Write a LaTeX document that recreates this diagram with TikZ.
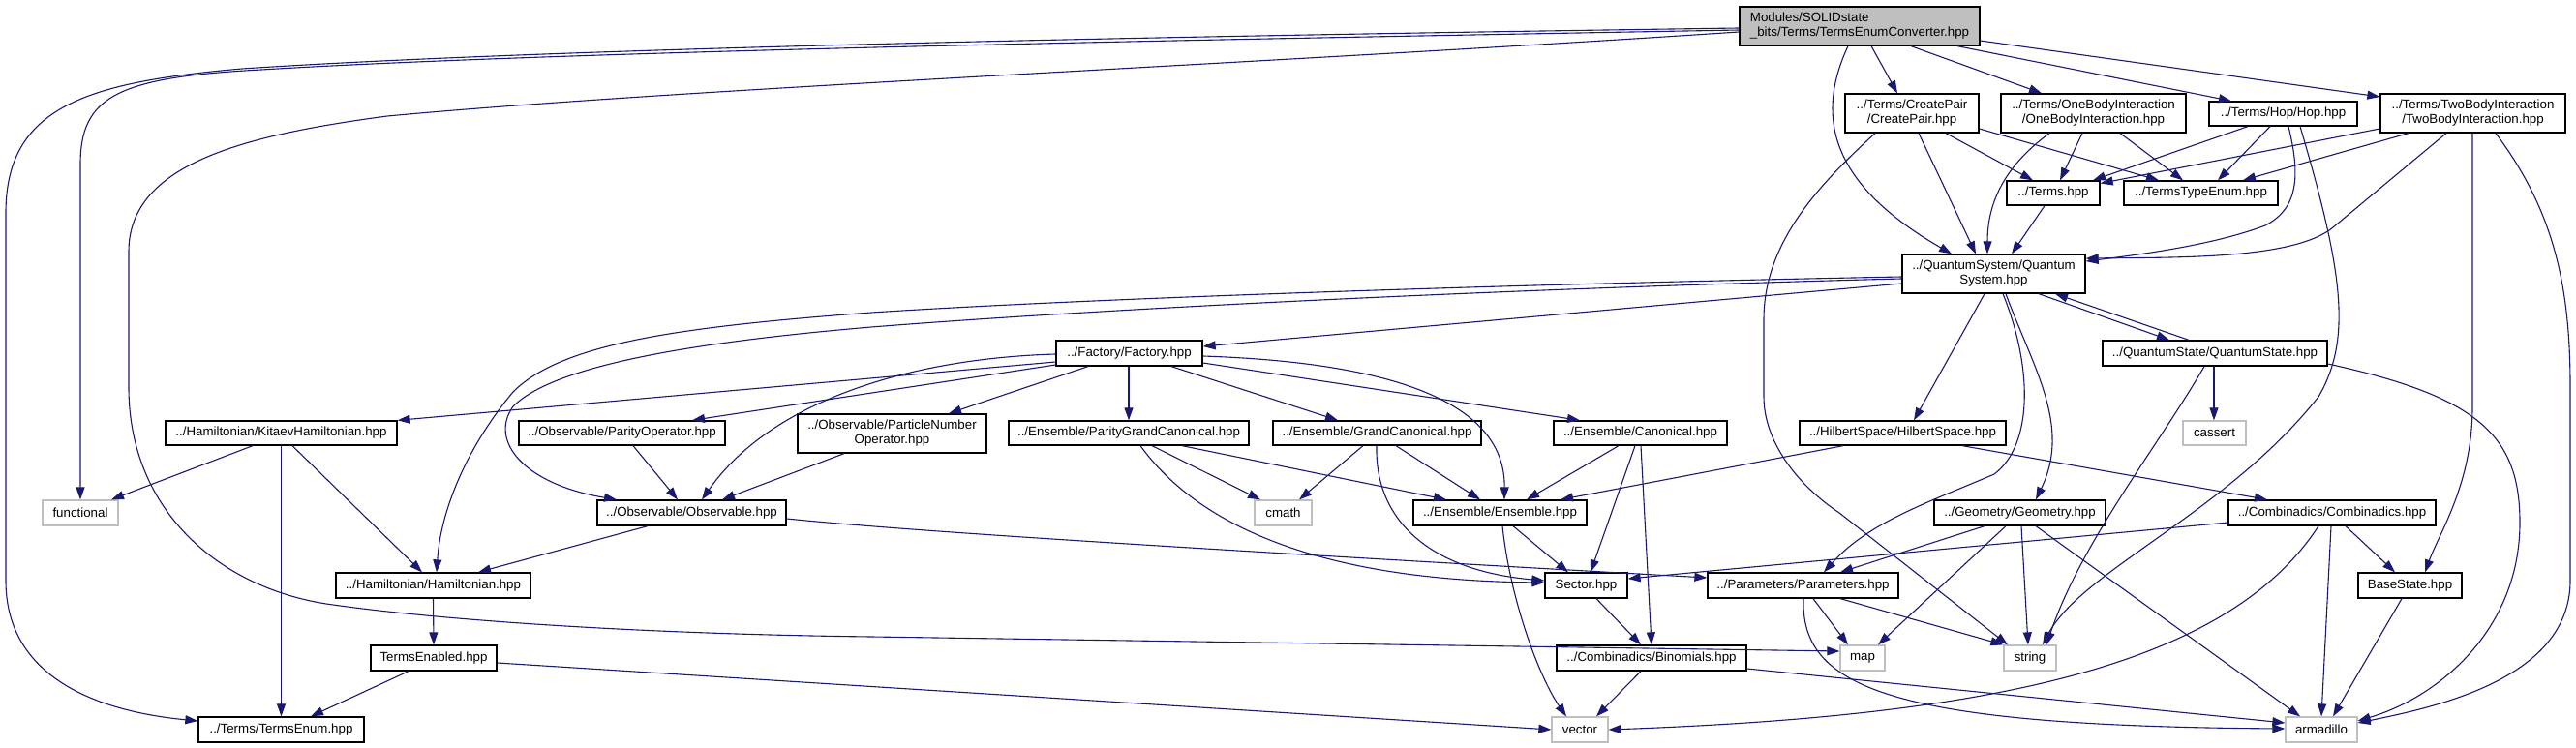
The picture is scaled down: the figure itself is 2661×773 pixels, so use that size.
\documentclass[tikz,border=0pt]{standalone}
\usepackage{fontspec}
\setmainfont{Liberation Sans}
\usetikzlibrary{arrows.meta}
\definecolor{eblue}{HTML}{191970}
\definecolor{lgray}{HTML}{BFBFBF}
\begin{document}
\begin{tikzpicture}[x=1pt,y=-1pt,
  box/.style={draw=black, line width=1.3pt, fill=white, rectangle, inner sep=0pt, align=center, font=\fontsize{13.3}{15}\selectfont},
  sys/.style={box, draw=lgray},
  e/.style={draw=eblue, line width=1.1pt, -{Triangle[length=13pt,width=9pt]}}]
\useasboundingbox (0,0) rectangle (2661,773);
% nodes
\node[box, fill=lgray, align=left, minimum width=248pt, minimum height=40pt] (root) at (1921,27) {Modules/SOLIDstate\\\_bits/Terms/TermsEnumConverter.hpp};
\node[box, minimum width=138pt, minimum height=40pt] (cp) at (1975,117) {../Terms/CreatePair\\/CreatePair.hpp};
\node[box, minimum width=191pt, minimum height=40pt] (ob) at (2162.5,117) {../Terms/OneBodyInteraction\\/OneBodyInteraction.hpp};
\node[box, minimum width=153pt, minimum height=25pt] (hop) at (2358.5,117.5) {../Terms/Hop/Hop.hpp};
\node[box, minimum width=191pt, minimum height=40pt] (tb) at (2554.5,117) {../Terms/TwoBodyInteraction\\/TwoBodyInteraction.hpp};
\node[box, minimum width=96pt, minimum height=25pt] (terms) at (2121,199.5) {../Terms.hpp};
\node[box, minimum width=159pt, minimum height=25pt] (tte) at (2273.5,199.5) {../TermsTypeEnum.hpp};
\node[box, minimum width=189pt, minimum height=40pt] (qsys) at (2059.5,283) {../QuantumSystem/Quantum\\System.hpp};
\node[box, minimum width=232pt, minimum height=26pt] (qstate) at (2288,365) {../QuantumState/QuantumState.hpp};
\node[box, minimum width=151pt, minimum height=26pt] (factory) at (1166.5,365) {../Factory/Factory.hpp};
\node[box, minimum width=239pt, minimum height=25pt] (kitaev) at (290.5,447.5) {../Hamiltonian/KitaevHamiltonian.hpp};
\node[box, minimum width=213pt, minimum height=25pt] (parop) at (642.5,447.5) {../Observable/ParityOperator.hpp};
\node[box, minimum width=195pt, minimum height=40pt] (pnop) at (921.5,448) {../Observable/ParticleNumber\\Operator.hpp};
\node[box, minimum width=248pt, minimum height=25pt] (pgc) at (1166,447.5) {../Ensemble/ParityGrandCanonical.hpp};
\node[box, minimum width=215pt, minimum height=25pt] (gc) at (1422.5,447.5) {../Ensemble/GrandCanonical.hpp};
\node[box, minimum width=179pt, minimum height=25pt] (can) at (1694.5,447.5) {../Ensemble/Canonical.hpp};
\node[box, minimum width=213pt, minimum height=25pt] (hilb) at (1965.5,447.5) {../HilbertSpace/HilbertSpace.hpp};
\node[sys, minimum width=65pt, minimum height=25pt] (cassert) at (2287.5,447.5) {cassert};
\node[sys, minimum width=78pt, minimum height=26pt] (functional) at (83,530) {functional};
\node[box, minimum width=195pt, minimum height=26pt] (obs) at (714.5,530) {../Observable/Observable.hpp};
\node[sys, minimum width=59pt, minimum height=26pt] (cmath) at (1325.5,530) {cmath};
\node[box, minimum width=179pt, minimum height=26pt] (ens) at (1549.5,530) {../Ensemble/Ensemble.hpp};
\node[box, minimum width=177pt, minimum height=26pt] (geo) at (2086.5,530) {../Geometry/Geometry.hpp};
\node[box, minimum width=214pt, minimum height=26pt] (comb) at (2409,530) {../Combinadics/Combinadics.hpp};
\node[box, minimum width=201pt, minimum height=26pt] (ham) at (447.5,605) {../Hamiltonian/Hamiltonian.hpp};
\node[box, minimum width=85pt, minimum height=26pt] (sector) at (1638.5,605) {Sector.hpp};
\node[box, minimum width=197pt, minimum height=26pt] (param) at (1862.5,605) {../Parameters/Parameters.hpp};
\node[box, minimum width=107pt, minimum height=26pt] (bs) at (2489.5,605) {BaseState.hpp};
\node[box, minimum width=130pt, minimum height=26pt] (tenab) at (448,680) {TermsEnabled.hpp};
\node[box, minimum width=196pt, minimum height=26pt] (binom) at (1706,680) {../Combinadics/Binomials.hpp};
\node[sys, minimum width=46pt, minimum height=26pt] (map) at (1924,680) {map};
\node[sys, minimum width=54pt, minimum height=26pt] (string) at (2097,680) {string};
\node[box, minimum width=171pt, minimum height=26pt] (tenum) at (290.5,754) {../Terms/TermsEnum.hpp};
\node[sys, minimum width=58pt, minimum height=26pt] (vector) at (1632,754) {vector};
\node[sys, minimum width=74pt, minimum height=26pt] (arma) at (2398,754) {armadillo};
% root edges
\draw[e] ([yshift=-2pt]root.west) .. controls (1300,36) and (600,48) .. (250,71) .. controls (90,85) and (6,110) .. (6,220) -- (6,600) .. controls (6,700) and (100,735) .. ([yshift=9pt]tenum.west);
\draw[e] ([yshift=-4pt]root.west) .. controls (1300,40) and (600,52) .. (270,72) .. controls (120,80) and (83,100) .. (83,170) -- (functional.north);
\draw[e] ([yshift=-6pt]root.west) .. controls (1300,66) and (700,92) .. (400,120) .. controls (250,140) and (133,170) .. (133,260) -- (133,400) .. controls (133,530) and (230,610) .. (344,625) .. controls (450,640) and (650,655) .. (900,658) -- ([yshift=7pt]map.west);
\draw[e] ([xshift=-12pt]root.south) .. controls (1875,120) and (1890,190) .. ([xshift=-43.5pt]qsys.north);
\draw[e] ([xshift=12pt]root.south) -- ([xshift=-15pt]cp.north);
\draw[e] ([xshift=53pt]root.south) -- ([xshift=-53.5pt]ob.north);
\draw[e] ([xshift=101pt]root.south) -- ([xshift=-53.5pt]hop.north);
\draw[e] ([yshift=-15pt]root.east) -- ([yshift=17pt]tb.west);
% CreatePair
\draw[e] ([xshift=7pt]cp.south) -- ([xshift=-18.5pt]qsys.north);
\draw[e] ([xshift=35pt]cp.south) -- ([xshift=-21pt]terms.north);
\draw[e] ([yshift=-16pt]cp.east) -- ([xshift=-43.5pt]tte.north);
\draw[e] ([xshift=-38pt]cp.south) .. controls (1880,190) and (1822,250) .. (1822,330) -- (1822,410) .. controls (1822,455) and (1855,500) .. (1900,530) -- ([xshift=-23pt]string.north);
% OneBody
\draw[e] ([xshift=-45.5pt]ob.south) .. controls (2080,165) and (2053,200) .. ([xshift=-6.5pt]qsys.north);
\draw[e] ([xshift=-11.5pt]ob.south) -- ([xshift=7pt]terms.north);
\draw[e] ([xshift=27.5pt]ob.south) -- ([xshift=-18.5pt]tte.north);
% Hop
\draw[e] ([xshift=-36.5pt]hop.south) -- ([xshift=41pt]terms.north);
\draw[e] ([xshift=-13.5pt]hop.south) -- ([xshift=17.5pt]tte.north);
\draw[e] ([xshift=5.5pt]hop.south) .. controls (2376,180) and (2375,215) .. (2340,233) .. controls (2290,252) and (2220,262) .. ([yshift=13pt]qsys.east);
\draw[e] ([xshift=17.5pt]hop.south) .. controls (2420,280) and (2430,350) .. (2395,410) .. controls (2300,530) and (2150,590) .. ([xshift=13pt]string.north);
% TwoBody
\draw[e] ([yshift=-16pt]tb.west) -- ([yshift=10pt]terms.east);
\draw[e] ([xshift=-66.5pt]tb.south) -- ([xshift=43.5pt]tte.north);
\draw[e] ([xshift=-27.5pt]tb.south) -- (2410,235) .. controls (2370,268) and (2250,266) .. ([yshift=16pt]qsys.east);
\draw[e] ([xshift=-0.5pt]tb.south) -- (2554,420) .. controls (2554,500) and (2520,550) .. ([xshift=15.5pt]bs.north);
\draw[e] ([xshift=23.5pt]tb.south) .. controls (2640,220) and (2655,300) .. (2655,400) -- (2655,600) .. controls (2655,700) and (2520,730) .. ([yshift=7pt]arma.east);
% Terms
\draw[e] ([xshift=-9pt]terms.south) -- ([xshift=18.5pt]qsys.north);
% QuantumSystem
\draw[e] ([yshift=-10pt]qsys.west) -- ([yshift=7pt]factory.east);
\draw[e] ([yshift=-3pt]qsys.west) .. controls (1500,295) and (1100,310) .. (900,323) .. controls (700,338) and (580,355) .. (530,405) .. controls (480,465) and (455,530) .. ([xshift=3.5pt]ham.north);
\draw[e] ([yshift=-5pt]qsys.west) .. controls (1500,300) and (1100,322) .. (900,338) .. controls (700,355) and (570,380) .. (530,420) .. controls (505,455) and (540,500) .. ([xshift=-77.5pt]obs.north);
\draw[e] ([xshift=-9.5pt]qsys.south) -- ([xshift=11.5pt]hilb.north);
\draw[e] ([xshift=12.5pt]qsys.south) .. controls (2100,380) and (2140,440) .. ([xshift=16.5pt]geo.north);
\draw[e] ([xshift=9.5pt]qsys.south) .. controls (2100,380) and (2100,460) .. (2060,490) .. controls (1990,520) and (1930,540) .. ([xshift=21.5pt]param.north);
\draw[e] ([xshift=46.5pt]qsys.south) -- ([xshift=-47pt]qstate.north);
\draw[e] ([xshift=-27pt]qstate.north) -- ([xshift=63.5pt]qsys.south);
% QuantumState
\draw[e] ([xshift=-1pt]qstate.south) -- ([xshift=-0.5pt]cassert.north);
\draw[e] ([xshift=-11pt]qstate.south) .. controls (2230,460) and (2150,560) .. ([xshift=17pt]string.north);
\draw[e] ([yshift=-11pt]qstate.east) .. controls (2560,410) and (2603,450) .. (2603,540) .. controls (2603,650) and (2520,720) .. ([yshift=9pt]arma.east);
% Factory
\draw[e] ([yshift=-9pt]factory.west) -- (kitaev.north east);
\draw[e] ([yshift=-12pt]factory.west) -- ([xshift=72.5pt]parop.north);
\draw[e] ([yshift=-1pt]factory.west) .. controls (950,370) and (800,410) .. ([xshift=10.5pt]obs.north);
\draw[e] ([xshift=-42.5pt]factory.south) -- ([xshift=58.5pt]pnop.north);
\draw[e] ([xshift=-0.5pt]factory.south) -- (pgc.north);
\draw[e] ([xshift=43.5pt]factory.south) -- ([xshift=-40.5pt]gc.north);
\draw[e] ([yshift=-10pt]factory.east) -- ([xshift=-62.5pt]can.north);
\draw[e] ([yshift=-3pt]factory.east) .. controls (1450,375) and (1555,420) .. ([xshift=4.5pt]ens.north);
% Kitaev
\draw[e] ([xshift=-29.5pt]kitaev.south) -- ([xshift=32pt]functional.north);
\draw[e] (kitaev.south) -- (tenum.north);
\draw[e] ([xshift=11.5pt]kitaev.south) -- ([xshift=-11.5pt]ham.north);
% Observables
\draw[e] ([xshift=11.5pt]parop.south) -- ([xshift=-14.5pt]obs.north);
\draw[e] ([xshift=-49.5pt]pnop.south) -- ([xshift=31.5pt]obs.north);
\draw[e] ([xshift=-45.5pt]obs.south) -- ([xshift=46.5pt]ham.north);
\draw[e] ([yshift=-6pt]obs.east) .. controls (900,545) and (1100,560) .. ([yshift=8pt]param.west);
% Hamiltonian
\draw[e] (ham.south) -- (tenab.north);
\draw[e] ([xshift=-26pt]tenab.south) -- ([xshift=30.5pt]tenum.north);
\draw[e] ([yshift=-5pt]tenab.east) -- (vector.west);
% Ensembles
\draw[e] ([xshift=24pt]pgc.south) -- ([xshift=-23.5pt]cmath.north);
\draw[e] ([xshift=55pt]pgc.south) -- ([xshift=-55.5pt]ens.north);
\draw[e] ([xshift=12pt]pgc.south) .. controls (1250,560) and (1400,600) .. ([yshift=3pt]sector.west);
\draw[e] ([xshift=-14.5pt]gc.south) -- ([xshift=16.5pt]cmath.north);
\draw[e] ([xshift=19.5pt]gc.south) -- ([xshift=-20.5pt]ens.north);
\draw[e] ([xshift=-0.5pt]gc.south) .. controls (1420,540) and (1480,590) .. ([yshift=5pt]sector.west);
\draw[e] ([xshift=-22.5pt]can.south) -- ([xshift=27.5pt]ens.north);
\draw[e] ([xshift=-5.5pt]can.south) -- ([xshift=4.5pt]sector.north);
\draw[e] ([xshift=0.5pt]can.south) -- (binom.north);
\draw[e] ([xshift=-61.5pt]hilb.south) -- ([xshift=62.5pt]ens.north);
\draw[e] ([xshift=61.5pt]hilb.south) -- ([xshift=-67pt]comb.north);
\draw[e] ([xshift=13.5pt]ens.south) -- ([xshift=-18.5pt]sector.north);
\draw[e] ([xshift=2.5pt]ens.south) .. controls (1560,620) and (1590,700) .. ([xshift=-14pt]vector.north);
\draw[e] ([xshift=10.5pt]sector.south) -- ([xshift=-11pt]binom.north);
\draw[e] ([xshift=-11pt]binom.south) -- ([xshift=17pt]vector.north);
\draw[e] ([yshift=-11pt]binom.east) -- ([yshift=7pt]arma.west);
% Geometry
\draw[e] ([xshift=-36.5pt]geo.south) -- ([xshift=38.5pt]param.north);
\draw[e] ([xshift=-14.5pt]geo.south) -- ([xshift=16pt]map.north);
\draw[e] ([xshift=1.5pt]geo.south) -- ([xshift=-2pt]string.north);
\draw[e] ([xshift=16.5pt]geo.south) -- ([xshift=-22pt]arma.north);
% Combinadics
\draw[e] ([yshift=-10pt]comb.west) -- ([yshift=7pt]sector.east);
\draw[e] ([xshift=14pt]comb.south) -- ([xshift=-15.5pt]bs.north);
\draw[e] ([xshift=-1pt]comb.south) -- (arma.north);
\draw[e] ([xshift=-14pt]comb.south) .. controls (2300,690) and (2050,740) .. (vector.east);
% Parameters
\draw[e] ([xshift=10.5pt]param.south) -- ([xshift=-15pt]map.north);
\draw[e] ([xshift=38.5pt]param.south) -- (string.north west);
\draw[e] ([xshift=0.5pt]param.south) .. controls (1860,710) and (1950,750) .. ([yshift=1pt]arma.west);
% BaseState
\draw[e] ([xshift=-8.5pt]bs.south) -- ([xshift=12pt]arma.north);
\end{tikzpicture}
\end{document}
